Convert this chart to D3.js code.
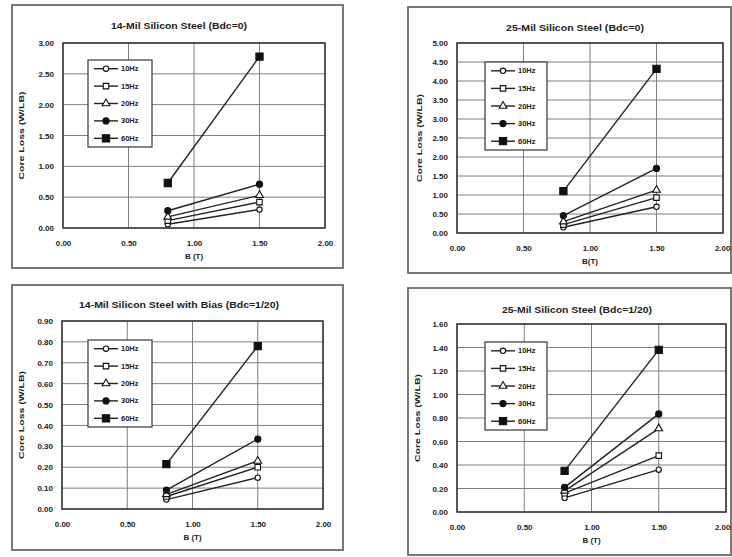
<!DOCTYPE html>
<html>
<head>
<meta charset="utf-8">
<script src="https://cdn.jsdelivr.net/npm/d3@7"></script>
<style>
  html, body { margin: 0; padding: 0; background: #ffffff; }
  svg { display: block; }
  text { font-family: Arial, "Liberation Sans", sans-serif; fill: #222; }
</style>
</head>
<body>
<svg id="chart" width="732" height="557"></svg>
<script>
// ---------- DATA ----------
const frequencies = ["10Hz", "15Hz", "20Hz", "30Hz", "60Hz"];
const fluxDensity = [0.8, 1.5];               // B (T)
const xTicks = [0, 0.5, 1.0, 1.5, 2.0];

const titles = [
  "14-Mil Silicon Steel (Bdc=0)",
  "25-Mil Silicon Steel (Bdc=0)",
  "14-Mil Silicon Steel with Bias (Bdc=1/20)",
  "25-Mil Silicon Steel (Bdc=1/20)"
];
const xLabels = ["B (T)", "B(T)", "B (T)", "B (T)"];
const yLabel = "Core Loss (W/LB)";

// core loss per frequency at B = 0.8 and 1.5
const loss14 = [[0.06, 0.30], [0.12, 0.42], [0.18, 0.53], [0.28, 0.71], [0.73, 2.78]];
const loss25 = [[0.15, 0.69], [0.22, 0.93], [0.30, 1.13], [0.46, 1.70], [1.10, 4.32]];
const loss14Bias = [[0.045, 0.15], [0.06, 0.20], [0.07, 0.23], [0.09, 0.335], [0.215, 0.78]];
const loss25Bias = [[0.12, 0.36], [0.16, 0.48], [0.18, 0.71], [0.21, 0.835], [0.35, 1.38]];

const yMaxes = [3.0, 5.0, 0.9, 1.6];
const ySteps = [0.5, 0.5, 0.1, 0.2];
const datasets = [loss14, loss25, loss14Bias, loss25Bias];

// ---------- LAYOUT ----------
const W = 732;
const panels = [
  { frame: [12, 5, 343, 268],  plot: [63, 43, 325, 228],  titleX: 179, titleY: 29, titleW: 136, leg: [88, 60, 152, 147],  yLabX: 24 },
  { frame: [408, 7, 731, 273], plot: [457, 43, 723, 233], titleX: 575, titleY: 31, titleW: 138, leg: [485, 62, 547, 150], yLabX: 422 },
  { frame: [12, 285, 343, 550], plot: [62, 321, 323, 509], titleX: 179, titleY: 308, titleW: 200, leg: [88, 340, 152, 427], yLabX: 24 },
  { frame: [408, 288, 731, 555], plot: [457, 324, 726, 512], titleX: 577, titleY: 313, titleW: 150, leg: [485, 342, 547, 430], yLabX: 420 }
];

const svg = d3.select("#chart");

const symbolFor = [
  { type: d3.symbolCircle, size: 22, fill: "#fff" },
  { type: d3.symbolSquare, size: 30, fill: "#fff" },
  { type: d3.symbolTriangle, size: 26, fill: "#fff" },
  { type: d3.symbolCircle, size: 30, fill: "#111" },
  { type: d3.symbolSquare, size: 52, fill: "#111" }
];

panels.forEach((p, i) => {
  const g = svg.append("g");
  const [fx0, fy0, fx1, fy1] = p.frame;
  g.append("rect").attr("x", fx0).attr("y", fy0).attr("width", fx1 - fx0).attr("height", fy1 - fy0)
    .attr("fill", "#fff").attr("stroke", "#6a6a6a").attr("stroke-width", 1.8);

  const [px0, py0, px1, py1] = p.plot;
  const x = d3.scaleLinear().domain([0, 2]).range([px0, px1]);
  const yTicks = d3.range(0, yMaxes[i] + ySteps[i] / 2, ySteps[i]);
  const y = d3.scaleLinear().domain([0, yMaxes[i]]).range([py1, py0]);

  // grid
  g.append("g").selectAll("line.h").data(yTicks).join("line")
    .attr("x1", px0).attr("x2", px1).attr("y1", d => y(d)).attr("y2", d => y(d))
    .attr("stroke", "#7d7d7d").attr("stroke-width", 1);
  g.append("g").selectAll("line.v").data(xTicks).join("line")
    .attr("y1", py0).attr("y2", py1).attr("x1", d => x(d)).attr("x2", d => x(d))
    .attr("stroke", "#7d7d7d").attr("stroke-width", 1);

  // plot border
  g.append("rect").attr("x", px0).attr("y", py0).attr("width", px1 - px0).attr("height", py1 - py0)
    .attr("fill", "none").attr("stroke", "#333").attr("stroke-width", 1.5);

  // axes (labels only)
  const xAxis = d3.axisBottom(x).tickValues(xTicks).tickFormat(d3.format(".2f")).tickSize(0).tickPadding(12);
  const xg = g.append("g").attr("transform", `translate(0,${py1})`).call(xAxis);
  xg.select(".domain").remove();
  xg.selectAll("text").style("font-size", "8px").style("font-weight", "bold").attr("fill", "#444");
  // keep labels inside the window
  xg.selectAll("text").each(function () {
    const bb = this.getBBox();
    const tickX = +d3.select(this.parentNode).attr("transform").match(/translate\(([-\d.]+)/)[1];
    const right = tickX + bb.x + bb.width;
    if (right > W - 1) d3.select(this).attr("dx", (W - 1 - right) + "px");
  });

  const yAxis = d3.axisLeft(y).tickValues(yTicks).tickFormat(d3.format(".2f")).tickSize(0).tickPadding(9);
  const yg = g.append("g").attr("transform", `translate(${px0},0)`).call(yAxis);
  yg.select(".domain").remove();
  yg.selectAll("text").style("font-size", "8px").style("font-weight", "bold").attr("fill", "#444");

  // titles
  g.append("text").attr("x", p.titleX).attr("y", p.titleY).attr("text-anchor", "middle")
    .attr("textLength", p.titleW).attr("lengthAdjust", "spacingAndGlyphs")
    .style("font-size", "8.5px").style("font-weight", "bold").text(titles[i]);
  g.append("text").attr("x", x(1.0)).attr("y", py1 + 31).attr("text-anchor", "middle")
    .style("font-size", "8px").style("font-weight", "bold").text(xLabels[i]);
  g.append("text").attr("transform", `translate(${p.yLabX},${(py0 + py1) / 2}) rotate(-90)`)
    .attr("text-anchor", "middle").attr("textLength", 88).attr("lengthAdjust", "spacingAndGlyphs")
    .style("font-size", "8px").style("font-weight", "bold").text(yLabel);

  // series
  const line = d3.line().x(d => x(d[0])).y(d => y(d[1]));
  datasets[i].forEach((vals, s) => {
    const pts = fluxDensity.map((b, k) => [b, vals[k]]);
    g.append("path").datum(pts).attr("d", line).attr("fill", "none")
      .attr("stroke", "#222").attr("stroke-width", 1.4);
    const sym = symbolFor[s];
    g.selectAll(null).data(pts).join("path")
      .attr("transform", d => `translate(${x(d[0])},${y(d[1])})`)
      .attr("d", d3.symbol().type(sym.type).size(sym.size))
      .attr("fill", sym.fill).attr("stroke", "#111").attr("stroke-width", 1.1);
  });

  // legend
  const [lx0, ly0, lx1, ly1] = p.leg;
  g.append("rect").attr("x", lx0).attr("y", ly0).attr("width", lx1 - lx0).attr("height", ly1 - ly0)
    .attr("fill", "#fff").attr("stroke", "#444").attr("stroke-width", 1.3);
  const rowH = (ly1 - ly0) / frequencies.length;
  frequencies.forEach((f, s) => {
    const cy = ly0 + rowH * (s + 0.5);
    g.append("line").attr("x1", lx0 + 6).attr("x2", lx0 + 30).attr("y1", cy).attr("y2", cy)
      .attr("stroke", "#222").attr("stroke-width", 1.4);
    const sym = symbolFor[s];
    g.append("path").attr("transform", `translate(${lx0 + 18},${cy})`)
      .attr("d", d3.symbol().type(sym.type).size(sym.size))
      .attr("fill", sym.fill).attr("stroke", "#111").attr("stroke-width", 1.1);
    g.append("text").attr("x", lx0 + 33).attr("y", cy + 2.5)
      .style("font-size", "7.5px").style("font-weight", "bold").attr("fill", "#333").text(f);
  });
});
</script>
</body>
</html>
